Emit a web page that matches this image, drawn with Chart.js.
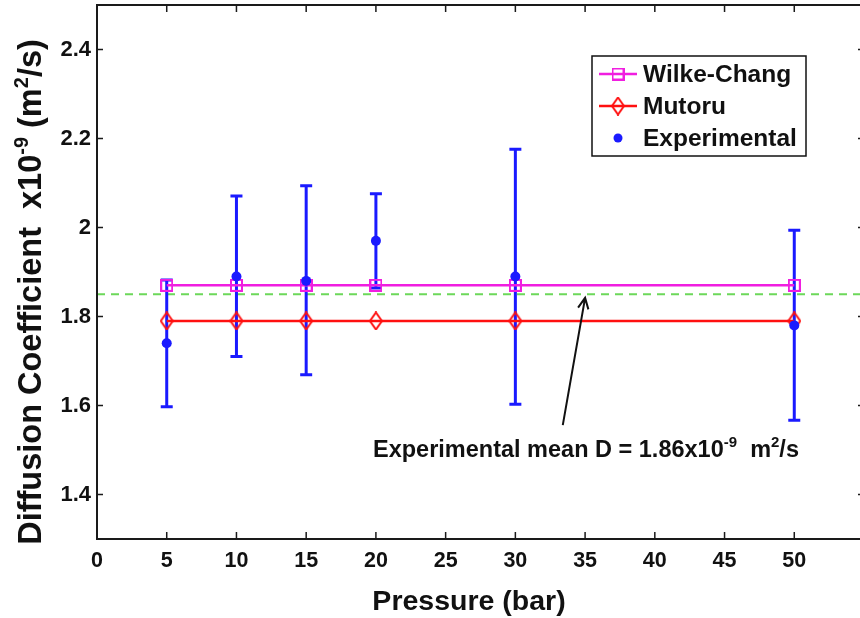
<!DOCTYPE html>
<html>
<head>
<meta charset="utf-8">
<script src="https://cdn.jsdelivr.net/npm/chart.js@4.4.0/dist/chart.umd.min.js"></script>
<style>
  html, body { margin: 0; padding: 0; background: #fff; overflow: hidden; }
  #wrap { width: 870px; height: 618px; }
</style>
</head>
<body>
<div id="wrap"><canvas id="diffChart" width="870" height="618"></canvas></div>
<script>
// Data
const pressures = [5, 10, 15, 20, 30, 50];
const wilkeChang = [1.87, 1.87, 1.87, 1.87, 1.87, 1.87];
const mutoru = [1.79, 1.79, 1.79, 1.79, 1.79, 1.79];
const experimental = [1.74, 1.89, 1.88, 1.97, 1.89, 1.78];
const expLow = [1.597, 1.71, 1.669, 1.864, 1.603, 1.567];
const expHigh = [1.882, 2.071, 2.094, 2.076, 2.176, 1.994];
const meanValue = 1.85;
const meanSpan = [0, 55];
const xTicks = [0, 5, 10, 15, 20, 25, 30, 35, 40, 45, 50];
const yTicks = [1.4, 1.6, 1.8, 2.0, 2.2, 2.4];

const FONT = '"Liberation Sans", Arial, Helvetica, sans-serif';
const MAGENTA = '#f01ee0';
const RED = '#ff1010';
const BLUE = '#1a1aff';
const GREEN = '#6cd85a';

/**
 * Open marker images (square and tall diamond)
 */
function makeSquare(size, color) {
  const c = document.createElement('canvas');
  c.width = size; c.height = size;
  const g = c.getContext('2d');
  g.strokeStyle = color;
  g.lineWidth = 2;
  g.strokeRect(1, 1, size - 2, size - 2);
  return c;
}

function makeDiamond(w, h, color) {
  const c = document.createElement('canvas');
  c.width = w; c.height = h;
  const g = c.getContext('2d');
  g.strokeStyle = color;
  g.lineWidth = 2;
  g.beginPath();
  g.moveTo(w / 2, 1);
  g.lineTo(w - 1, h / 2);
  g.lineTo(w / 2, h - 1);
  g.lineTo(1, h / 2);
  g.closePath();
  g.stroke();
  return c;
}

const squareMarker = makeSquare(13, MAGENTA);
const diamondMarker = makeDiamond(14, 19, RED);

const toPoints = (ys) => pressures.map((x, i) => ({ x: x, y: ys[i] }));

/**
 * Draw text with superscript parts; parts = [[text, isSup], ...]
 */
function drawRich(ctx, parts, x, y, size, supSize, rise) {
  let cx = x;
  parts.forEach(([txt, sup]) => {
    ctx.font = 'bold ' + (sup ? supSize : size) + 'px ' + FONT;
    ctx.fillText(txt, cx, sup ? y - rise : y);
    cx += ctx.measureText(txt).width;
  });
  return cx - x;
}

function richWidth(ctx, parts, size, supSize) {
  let w = 0;
  parts.forEach(([txt, sup]) => {
    ctx.font = 'bold ' + (sup ? supSize : size) + 'px ' + FONT;
    w += ctx.measureText(txt).width;
  });
  return w;
}

// Error bars for the experimental points
const errorBarPlugin = {
  id: 'errorBars',
  afterDatasetDraw(chart, args) {
    if (args.index !== 0) return;
    const ctx = chart.ctx;
    const xs = chart.scales.x, ys = chart.scales.y;
    ctx.save();
    ctx.strokeStyle = BLUE;
    ctx.lineWidth = 3;
    pressures.forEach((p, i) => {
      const px = xs.getPixelForValue(p);
      const lo = ys.getPixelForValue(expLow[i]);
      const hi = ys.getPixelForValue(expHigh[i]);
      ctx.beginPath();
      ctx.moveTo(px, lo); ctx.lineTo(px, hi);
      ctx.moveTo(px - 6, lo); ctx.lineTo(px + 6, lo);
      ctx.moveTo(px - 6, hi); ctx.lineTo(px + 6, hi);
      ctx.stroke();
    });
    ctx.restore();
  }
};

// Frame, inward ticks, axis titles, legend and annotation
const decorPlugin = {
  id: 'decor',
  afterDraw(chart) {
    const ctx = chart.ctx;
    const a = chart.chartArea;
    const xs = chart.scales.x, ys = chart.scales.y;
    ctx.save();

    // frame
    ctx.strokeStyle = '#1a1a1a';
    ctx.lineWidth = 2;
    ctx.strokeRect(a.left, a.top, a.right - a.left, a.bottom - a.top);

    // inward ticks
    ctx.lineWidth = 1.5;
    ctx.beginPath();
    xTicks.forEach(v => {
      if (v === 0) return;
      const px = xs.getPixelForValue(v);
      ctx.moveTo(px, a.bottom); ctx.lineTo(px, a.bottom - 7);
      ctx.moveTo(px, a.top); ctx.lineTo(px, a.top + 7);
    });
    yTicks.forEach(v => {
      const py = ys.getPixelForValue(v);
      ctx.moveTo(a.left, py); ctx.lineTo(a.left + 6, py);
      ctx.moveTo(a.right, py); ctx.lineTo(a.right - 6, py);
    });
    ctx.stroke();

    ctx.fillStyle = '#111';

    // x title
    ctx.font = 'bold 28.5px ' + FONT;
    ctx.textAlign = 'center';
    ctx.textBaseline = 'alphabetic';
    ctx.fillText('Pressure (bar)', 469, 610);

    // y title (rotated, with superscripts)
    const yParts = [['Diffusion Coefficient  x10', false], ['-9', true], [' (m', false], ['2', true], ['/s)', false]];
    ctx.save();
    ctx.translate(41, 292);
    ctx.rotate(-Math.PI / 2);
    ctx.textAlign = 'left';
    const yw = richWidth(ctx, yParts, 32.5, 20);
    drawRich(ctx, yParts, -yw / 2, 0, 32.5, 20, 13);
    ctx.restore();

    // legend
    ctx.lineWidth = 1.5;
    ctx.strokeStyle = '#111';
    ctx.strokeRect(592, 56, 214, 100);
    const rows = [
      { y: 74, color: MAGENTA, marker: squareMarker, label: 'Wilke-Chang', line: true },
      { y: 106, color: RED, marker: diamondMarker, label: 'Mutoru', line: true },
      { y: 138, color: BLUE, marker: null, label: 'Experimental', line: false }
    ];
    ctx.textAlign = 'left';
    ctx.textBaseline = 'middle';
    ctx.font = 'bold 24.5px ' + FONT;
    rows.forEach(r => {
      if (r.line) {
        ctx.strokeStyle = r.color;
        ctx.lineWidth = 2.5;
        ctx.beginPath();
        ctx.moveTo(599, r.y); ctx.lineTo(637, r.y);
        ctx.stroke();
        ctx.drawImage(r.marker, 618 - r.marker.width / 2, r.y - r.marker.height / 2);
      } else {
        ctx.fillStyle = r.color;
        ctx.beginPath();
        ctx.arc(618, r.y, 4.5, 0, Math.PI * 2);
        ctx.fill();
      }
      ctx.fillStyle = '#111';
      ctx.fillText(r.label, 643, r.y + 1);
    });

    // annotation arrow
    const tipX = xs.getPixelForValue(35.0), tipY = ys.getPixelForValue(1.842);
    const tailX = xs.getPixelForValue(33.4), tailY = ys.getPixelForValue(1.556);
    ctx.strokeStyle = '#111';
    ctx.lineWidth = 2;
    ctx.beginPath();
    ctx.moveTo(tailX, tailY); ctx.lineTo(tipX, tipY);
    const ang = Math.atan2(tipY - tailY, tipX - tailX);
    const hl = 12, ha = 0.45;
    ctx.moveTo(tipX - hl * Math.cos(ang - ha), tipY - hl * Math.sin(ang - ha));
    ctx.lineTo(tipX, tipY);
    ctx.lineTo(tipX - hl * Math.cos(ang + ha), tipY - hl * Math.sin(ang + ha));
    ctx.stroke();

    // annotation text
    ctx.textBaseline = 'alphabetic';
    ctx.fillStyle = '#111';
    const noteParts = [['Experimental mean D = 1.86x10', false], ['-9', true], ['  m', false], ['2', true], ['/s', false]];
    drawRich(ctx, noteParts, 373, 457, 23.5, 15, 10);

    ctx.restore();
  }
};

const ctx = document.getElementById('diffChart');
new Chart(ctx, {
  type: 'line',
  data: {
    datasets: [
      {
        label: 'Experimental mean',
        data: meanSpan.map(x => ({ x: x, y: meanValue })),
        borderColor: GREEN,
        borderWidth: 2,
        borderDash: [8, 6],
        pointRadius: 0,
        order: 4
      },
      {
        label: 'Wilke-Chang',
        data: toPoints(wilkeChang),
        borderColor: MAGENTA,
        borderWidth: 2.5,
        pointStyle: squareMarker,
        pointRadius: 7,
        order: 3
      },
      {
        label: 'Mutoru',
        data: toPoints(mutoru),
        borderColor: RED,
        borderWidth: 2.5,
        pointStyle: diamondMarker,
        pointRadius: 8,
        order: 2
      },
      {
        label: 'Experimental',
        data: toPoints(experimental),
        showLine: false,
        pointStyle: 'circle',
        pointRadius: 5,
        backgroundColor: BLUE,
        borderColor: BLUE,
        borderWidth: 0,
        order: 1
      }
    ]
  },
  options: {
    responsive: false,
    animation: false,
    layout: { autoPadding: false, padding: { left: 0, top: 5, right: 6, bottom: 0 } },
    plugins: {
      legend: { display: false },
      tooltip: { enabled: false }
    },
    scales: {
      x: {
        type: 'linear',
        min: 0,
        max: 55,
        afterBuildTicks: s => { s.ticks = xTicks.map(v => ({ value: v })); },
        afterFit: s => { s.height = 79; s.paddingLeft = 0; s.paddingRight = 0; },
        grid: { display: false, drawTicks: false },
        border: { display: false },
        ticks: {
          color: '#111',
          padding: 9,
          maxRotation: 0,
          font: { family: FONT, size: 21.5, weight: 'bold' },
          callback: v => String(v)
        }
      },
      y: {
        type: 'linear',
        min: 1.3,
        max: 2.5,
        afterBuildTicks: s => { s.ticks = yTicks.map(v => ({ value: v })); },
        afterFit: s => { s.width = 97; s.paddingTop = 0; s.paddingBottom = 0; },
        grid: { display: false, drawTicks: false },
        border: { display: false },
        ticks: {
          color: '#111',
          padding: 6,
          font: { family: FONT, size: 22, weight: 'bold' },
          callback: v => String(Math.round(v * 10) / 10)
        }
      }
    }
  },
  plugins: [errorBarPlugin, decorPlugin]
});
</script>
</body>
</html>
